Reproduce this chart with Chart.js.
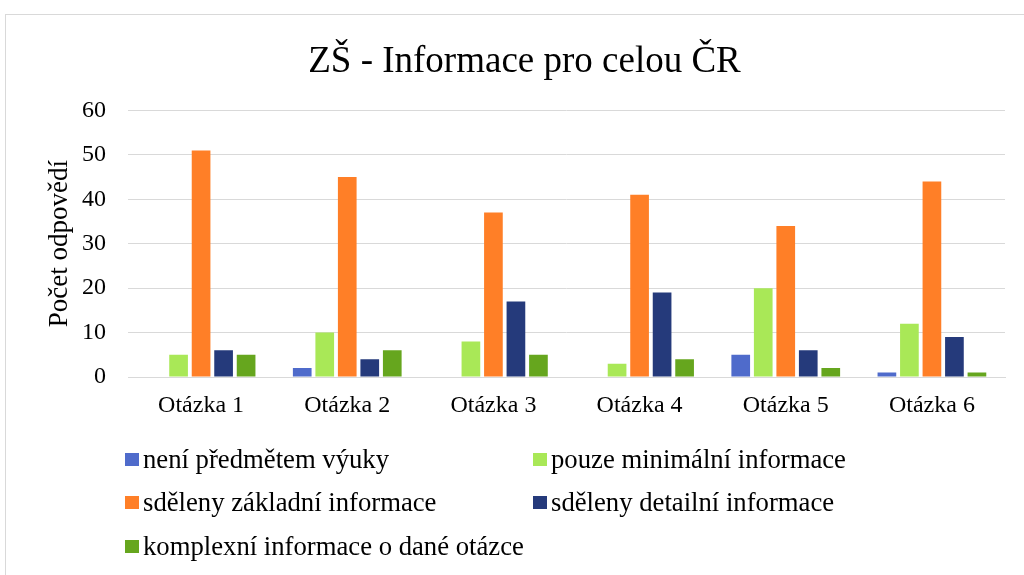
<!DOCTYPE html>
<html>
<head>
<meta charset="utf-8">
<script src="https://cdn.jsdelivr.net/npm/chart.js@4.4.1/dist/chart.umd.min.js"></script>
<style>
  html, body { margin: 0; padding: 0; background: #fff; }
  #wrap { position: relative; width: 1024px; height: 575px; overflow: hidden; }
  #frame { position: absolute; left: 5px; top: 14px; width: 1040px; height: 600px; border: 1px solid #d9d9d9; box-sizing: border-box; }
  #chart { position: absolute; left: 0; top: 0; }
  #legend { position: absolute; left: 0; top: 0; font-family: "Liberation Serif", "Times New Roman", serif; font-size: 26.7px; color: #000; }
  .item { position: absolute; display: flex; align-items: center; white-space: nowrap; }
  .box { width: 14px; height: 13px; margin-right: 4px; }
</style>
</head>
<body>
<div id="wrap">
  <div id="frame"></div>
  <canvas id="chart" width="1024" height="575"></canvas>
  <div id="legend"></div>
</div>
<script>
const questions = ['Otázka 1', 'Otázka 2', 'Otázka 3', 'Otázka 4', 'Otázka 5', 'Otázka 6'];

const seriesNames = [
  'není předmětem výuky',
  'pouze minimální informace',
  'sděleny základní informace',
  'sděleny detailní informace',
  'komplexní informace o dané otázce'
];
const seriesColors = ['#4f6bcb', '#a9e857', '#ff7f27', '#253a7b', '#66a61e'];

const notTaught   = [0, 2, 0, 0, 5, 1];
const minimalInfo = [5, 10, 8, 3, 20, 12];
const basicInfo   = [51, 45, 37, 41, 34, 44];
const detailInfo  = [6, 4, 17, 19, 6, 9];
const complexInfo = [5, 6, 5, 4, 2, 1];

const seriesValues = [notTaught, minimalInfo, basicInfo, detailInfo, complexInfo];

const yTicks = [0, 10, 20, 30, 40, 50, 60];

const serif = '"Liberation Serif", "Times New Roman", serif';

const chart = new Chart(document.getElementById('chart').getContext('2d'), {
  type: 'bar',
  data: {
    labels: questions,
    datasets: seriesNames.map((name, i) => ({
      label: name,
      data: seriesValues[i],
      backgroundColor: seriesColors[i],
      borderWidth: 0,
      categoryPercentage: 0.77,
      barPercentage: 0.83
    }))
  },
  options: {
    responsive: false,
    animation: false,
    layout: {
      padding: { top: 40, right: 19, bottom: 158, left: 44 }
    },
    plugins: {
      legend: { display: false },
      tooltip: { enabled: false },
      title: {
        display: true,
        text: 'ZŠ - Informace pro celou ČR',
        color: '#000',
        font: { family: serif, size: 37, weight: 'normal' },
        padding: { top: 0, bottom: 26 }
      }
    },
    scales: {
      x: {
        grid: { display: false, drawTicks: false },
        border: { color: '#d9d9d9', width: 1 },
        ticks: {
          color: '#000',
          font: { family: serif, size: 24 },
          padding: 14
        },
        afterFit: (scale) => { scale.height = 40; }
      },
      y: {
        min: 0,
        max: 60,
        afterBuildTicks: (scale) => { scale.ticks = yTicks.map(v => ({ value: v })); },
        grid: { color: '#d9d9d9', lineWidth: 1, drawTicks: false },
        border: { display: false },
        ticks: {
          color: '#000',
          font: { family: serif, size: 24 },
          padding: 22
        },
        title: {
          display: true,
          text: 'Počet odpovědí',
          color: '#000',
          font: { family: serif, size: 27 },
          padding: 0
        },
        afterFit: (scale) => { scale.width = 84; }
      }
    }
  }
});

// two-column legend like the original
const legend = document.getElementById('legend');
const colX = [125, 533];
const rowY = [459, 502, 546];
chart.data.datasets.forEach((ds, i) => {
  const item = document.createElement('div');
  item.className = 'item';
  item.style.left = colX[i % 2] + 'px';
  item.style.top = (rowY[Math.floor(i / 2)] - 17) + 'px';
  item.style.height = '34px';
  const box = document.createElement('span');
  box.className = 'box';
  box.style.background = ds.backgroundColor;
  const txt = document.createElement('span');
  txt.textContent = ds.label;
  item.appendChild(box);
  item.appendChild(txt);
  legend.appendChild(item);
});
</script>
</body>
</html>
